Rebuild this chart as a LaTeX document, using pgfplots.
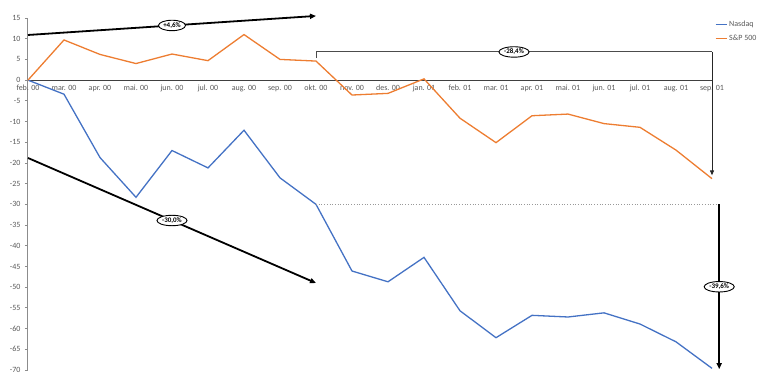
\documentclass[border=0pt]{standalone}
\usepackage{pgfplots}
\pgfplotsset{compat=1.18}
\usepackage{pgfplotstable}
\usepackage{fontspec}
\setmainfont{Carlito}
\usetikzlibrary{arrows.meta,shapes.geometric}
\definecolor{nas}{HTML}{4472C4}
\definecolor{spc}{HTML}{ED7D31}
\definecolor{lbl}{HTML}{595959}
\pgfplotstableread{
x nasdaq sp
0 0 0
1 -3.4 9.7
2 -18.7 6.2
3 -28.3 4.0
4 -17.0 6.3
5 -21.2 4.7
6 -12.1 11.0
7 -23.6 5.0
8 -30.0 4.6
9 -46.1 -3.6
10 -48.7 -3.2
11 -42.8 0.3
12 -55.7 -9.2
13 -62.2 -15.1
14 -56.8 -8.6
15 -57.2 -8.2
16 -56.2 -10.5
17 -58.9 -11.4
18 -63.2 -16.9
19 -69.6 -23.8
}\data
\tikzset{pct/.style={ellipse,draw=black,line width=0.9pt,fill=white,inner sep=0.8pt,font=\fontsize{7}{8}\selectfont\bfseries,text=black}}
\begin{document}
\begin{tikzpicture}
\useasboundingbox (0,0) rectangle (768pt,382pt);
\begin{axis}[
  at={(28pt,12pt)}, anchor=south west,
  scale only axis, width=684pt, height=352pt,
  xmin=0, xmax=19, ymin=-70, ymax=15,
  clip=false,
  axis x line=middle, axis y line=left,
  hide obscured x ticks=false,
  x axis line style={-, draw=black!75, line width=1pt},
  y axis line style={-, draw=black!45, line width=1pt},
  xtick={0,...,19},
  xticklabels={feb. 00,mar. 00,apr. 00,mai. 00,jun. 00,jul. 00,aug. 00,sep. 00,okt. 00,nov. 00,des. 00,jan. 01,feb. 01,mar. 01,apr. 01,mai. 01,jun. 01,jul. 01,aug. 01,sep. 01},
  ytick={-70,-65,...,15},
  xtick style={draw=none},
  ytick style={draw=black!45, line width=0.8pt},
  tick align=outside, major tick length=3pt,
  tick label style={font=\fontsize{8}{9}\selectfont, text=lbl},
  xticklabel style={yshift=1.5pt},
  yticklabel style={xshift=-1pt},
  /pgf/number format/assume math mode=true,
  legend style={at={(1.004,0.997)}, anchor=north west, draw=none, fill=none,
    font=\fontsize{8}{9}\selectfont, text=lbl, row sep=2.5pt, inner sep=0pt},
  legend cell align=left,
  legend image code/.code={\draw[#1] (0pt,0pt) -- (11pt,0pt);},
]
\addplot[nas, line width=1.3pt] table[x=x,y=nasdaq]{\data};
\addlegendentry{Nasdaq}
\addplot[spc, line width=1.3pt] table[x=x,y=sp]{\data};
\addlegendentry{S\&P 500}
% annotations
\draw[line width=1.8pt,-{Triangle[length=6pt,width=5pt]}] (axis cs:0,10.9) -- node[pct]{+4,6\%} (axis cs:8,15.5);
\draw[line width=1.8pt,-{Triangle[length=6pt,width=5pt]}] (axis cs:0,-18.8) -- node[pct]{-30,0\%} (axis cs:8,-49.0);
\draw[black!70, line width=1pt] (axis cs:8,5.3) -- (axis cs:8,6.8) -- node[pct]{-28,4\%} (axis cs:19,6.8);
\draw[black!85, line width=1pt,-{Triangle[length=5pt,width=4pt]}] (axis cs:19,6.8) -- (axis cs:19,-23.0);
\draw[black!40, line width=0.7pt, dotted] (axis cs:8,-30) -- (axis cs:19.2,-30);
\draw[line width=1.8pt,-{Triangle[length=6pt,width=5pt]}] (axis cs:19.2,-30) -- node[pct]{-39,6\%} (axis cs:19.2,-69.8);
\end{axis}
\end{tikzpicture}
\end{document}
